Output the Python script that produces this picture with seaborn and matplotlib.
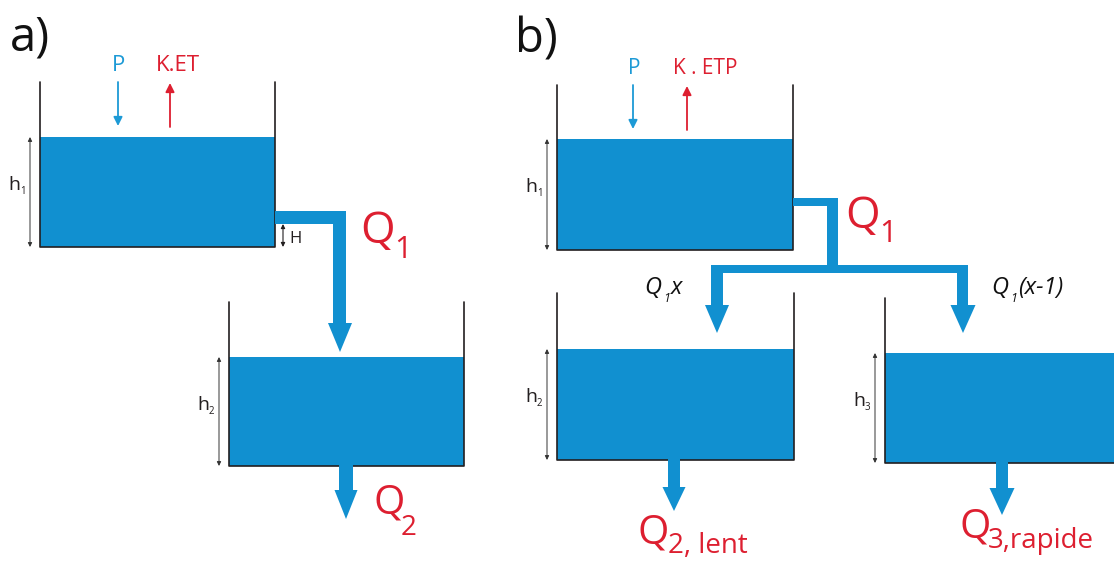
import pandas as pd
import seaborn as sns
import matplotlib.pyplot as plt
from matplotlib.patches import Rectangle, Polygon

# reservoirs (pixel units of the 1114x568 sketch, y pointing down)
tank_id = ['a1', 'a2', 'b1', 'b2', 'b3']
tank_left = [40, 229, 557, 557, 885]
tank_right = [275, 464, 793, 794, 1125]
tank_rim = [82, 302, 85, 293, 298]
tank_level = [137, 357, 139, 349, 353]
tank_bottom = [247, 466, 250, 460, 463]
tank_sub = ['1', '2', '1', '2', '3']

# pipe segments (x0, x1, y0, y1)
pipe_x0 = [275, 333, 339, 793, 827, 711, 711, 957, 668, 996]
pipe_x1 = [346, 346, 353, 838, 838, 968, 723, 968, 680, 1008]
pipe_y0 = [211, 211, 462, 198, 198, 265, 265, 265, 458, 461]
pipe_y1 = [224, 324, 491, 206, 273, 273, 306, 306, 488, 489]

# arrow heads at the end of the pipes
head_x = [340, 346, 717, 963, 674, 1002]
head_base = [323, 490, 305, 305, 487, 488]
head_tip = [352, 519, 333, 333, 511, 515]
head_half = [12, 11.5, 12, 12.5, 11.5, 12.5]

blue = '#1190d0'
red = '#dd1f30'
dark = '#231f20'

sns.set_theme(style='white')
plt.rcParams['font.family'] = ['Open Sans', 'DejaVu Sans']

fig = plt.figure(figsize=(11.14, 5.68), dpi=100)
ax = fig.add_axes([0, 0, 1, 1])

# water
for i in range(len(tank_id)):
    ax.add_patch(Rectangle((tank_left[i], tank_level[i]),
                           tank_right[i] - tank_left[i],
                           tank_bottom[i] - tank_level[i],
                           color=blue, lw=0, zorder=1))

# pipes
for i in range(len(pipe_x0)):
    ax.add_patch(Rectangle((pipe_x0[i], pipe_y0[i]),
                           pipe_x1[i] - pipe_x0[i], pipe_y1[i] - pipe_y0[i],
                           color=blue, lw=0, zorder=3))
for i in range(len(head_x)):
    ax.add_patch(Polygon([(head_x[i] - head_half[i], head_base[i]),
                          (head_x[i] + head_half[i], head_base[i]),
                          (head_x[i], head_tip[i])],
                         closed=True, color=blue, lw=0, zorder=3))

# walls of the reservoirs
rows = []
for i, t in enumerate(tank_id):
    pts = [(tank_left[i], tank_rim[i]), (tank_left[i], tank_bottom[i]),
           (tank_right[i], tank_bottom[i]), (tank_right[i], tank_rim[i])]
    for k, (x, y) in enumerate(pts):
        rows.append({'tank': t, 'order': k, 'x': x, 'y': y})
walls = pd.DataFrame(rows)
sns.lineplot(data=walls, x='x', y='y', units='tank', estimator=None,
             sort=False, color=dark, lw=1.2, ax=ax, zorder=2)

# heights h1, h2, h3
for i in range(len(tank_id)):
    xa = tank_left[i] - 10
    ax.annotate('', xy=(xa, tank_level[i]), xytext=(xa, tank_bottom[i]),
                arrowprops=dict(arrowstyle='<|-|>', color='#333333', lw=0.7,
                                mutation_scale=6, shrinkA=0, shrinkB=0))
    ym = (tank_level[i] + tank_bottom[i]) / 2 - 2
    ax.text(xa - 22, ym, 'h', fontsize=14, color=dark, ha='left',
            va='baseline')
    ax.text(xa - 10, ym + 4, tank_sub[i], fontsize=7, color=dark,
            ha='left', va='baseline')

# H in a)
ax.annotate('', xy=(283, 224), xytext=(283, 247),
            arrowprops=dict(arrowstyle='<|-|>', color=dark, lw=0.8,
                            mutation_scale=6, shrinkA=0, shrinkB=0))
ax.text(289, 243, 'H', fontsize=12, color=dark, ha='left', va='baseline')

# panel letters
ax.text(10, 50, 'a)', fontsize=34, color='#111111', ha='left', va='baseline')
ax.text(515, 52, 'b)', fontsize=34, color='#111111', ha='left', va='baseline')

# precipitation and evaporation
pblue = '#1d9ad6'
for xp, xk, ytxt, ytop, ybot, lab, fs in [
        (118, 170, 71, 82, 127, 'K.ET', 16),
        (633, 687, 74, 85, 130, 'K . ETP', 15)]:
    ax.annotate('', xy=(xp, ybot - 1), xytext=(xp, ytop),
                arrowprops=dict(arrowstyle='-|>', color=pblue, lw=1.3,
                                mutation_scale=13, shrinkA=0, shrinkB=0))
    ax.annotate('', xy=(xk, ytop + 1), xytext=(xk, ybot),
                arrowprops=dict(arrowstyle='-|>', color=red, lw=1.3,
                                mutation_scale=13, shrinkA=0, shrinkB=0))
    ax.text(xp + 1, ytxt, 'P', fontsize=fs, color=pblue, ha='center',
            va='baseline')
    ax.text(xk - 14, ytxt, lab, fontsize=fs, color=red, ha='left',
            va='baseline')

# discharge labels
for xq, yq, size, sub, dx, dy, ssize in [
        (360, 243, 32, '1', 34, 15, 22),
        (845, 228, 32, '1', 34, 14, 22),
        (374, 514, 29, '2', 27, 21, 20),
        (638, 543, 29, '2, lent', 30, 10, 20),
        (960, 537, 29, '3,rapide', 28, 11, 20)]:
    ax.text(xq, yq, 'Q', fontsize=size, color=red, ha='left', va='baseline')
    ax.text(xq + dx, yq + dy, sub, fontsize=ssize, color=red, ha='left',
            va='baseline')

# split of Q1 in b)
for xq, rest in [(644, 'x'), (991, '(x-1)')]:
    ax.text(xq, 294, 'Q', fontsize=17, style='italic', color='#111111',
            ha='left', va='baseline')
    ax.text(xq + 19, 302, '1', fontsize=9, style='italic', color='#111111',
            ha='left', va='baseline')
    ax.text(xq + 27, 294, rest, fontsize=17, style='italic', color='#111111',
            ha='left', va='baseline')

ax.set_xlim(0, 1114)
ax.set_ylim(568, 0)
ax.set_axis_off()

fig.savefig('out.png', dpi=100)
